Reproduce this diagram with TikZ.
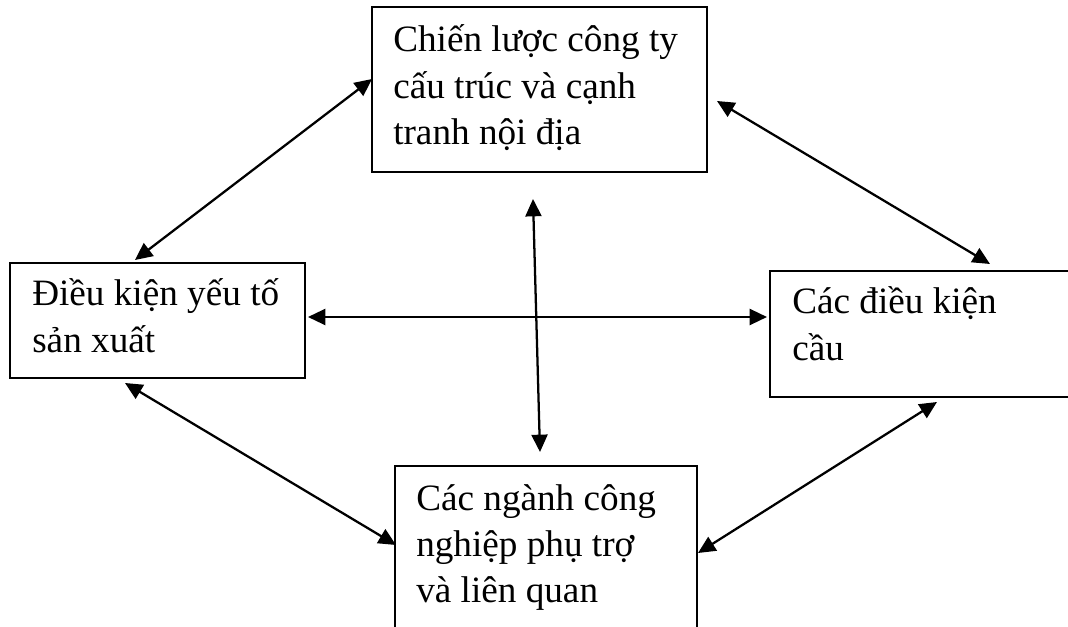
\documentclass[tikz,border=0pt]{standalone}
\usepackage{fontspec}
\setmainfont{Liberation Serif}
\usetikzlibrary{arrows.meta,fit}
\begin{document}
\begin{tikzpicture}[x=0.75pt,y=-0.75pt,
  box/.style={draw, line width=1.5pt, inner sep=0pt},
  txt/.style={anchor=base west, inner sep=0pt, text width=250pt, align=flush left,
    font=\fontsize{27.9}{34.6}\selectfont},
  link/.style={line width=1.7pt,
    {Triangle[length=13pt,width=12pt]}-{Triangle[length=13pt,width=12pt]}}]
\useasboundingbox (0,0) rectangle (1068,627);
\clip (0,0) rectangle (1068,627);

% the four factor boxes (the right and bottom ones run past the page edge)
\node[box, fit={(372,7) (707,172)}] (strategy) {};
\node[box, fit={(10,263) (305,378)}] (factor) {};
\node[box, fit={(770,271) (1090,397)}] (demand) {};
\node[box, fit={(395,466) (697,660)}] (support) {};

% box texts
\node[txt] (strategytext) at (393,52) {Chiến lược công ty\\cấu trúc và cạnh\\tranh nội địa};
\node[txt] (factortext) at (32,306) {Điều kiện yếu tố\\sản xuất};
\node[txt] (demandtext) at (792,314) {Các điều kiện\\cầu};
\node[txt] (supporttext) at (416,510) {Các ngành công\\nghiệp phụ trợ\\và liên quan};

% connector end points
\coordinate (s-f) at (372,79);
\coordinate (f-s) at (135,260);
\coordinate (s-d) at (717,101);
\coordinate (d-s) at (990,264);
\coordinate (f-d) at (308,317);
\coordinate (d-f) at (767,317);
\coordinate (c-top) at (533,199);
\coordinate (c-bot) at (540,452);
\coordinate (f-p) at (125,383);
\coordinate (p-f) at (396,545);
\coordinate (d-p) at (937,402);
\coordinate (p-d) at (698,553);

% two-way influences
\draw[link] (s-f) -- (f-s);
\draw[link] (s-d) -- (d-s);
\draw[link] (f-d) -- (d-f);
\draw[link] (c-top) -- (c-bot);
\draw[link] (f-p) -- (p-f);
\draw[link] (d-p) -- (p-d);
\end{tikzpicture}
\end{document}
